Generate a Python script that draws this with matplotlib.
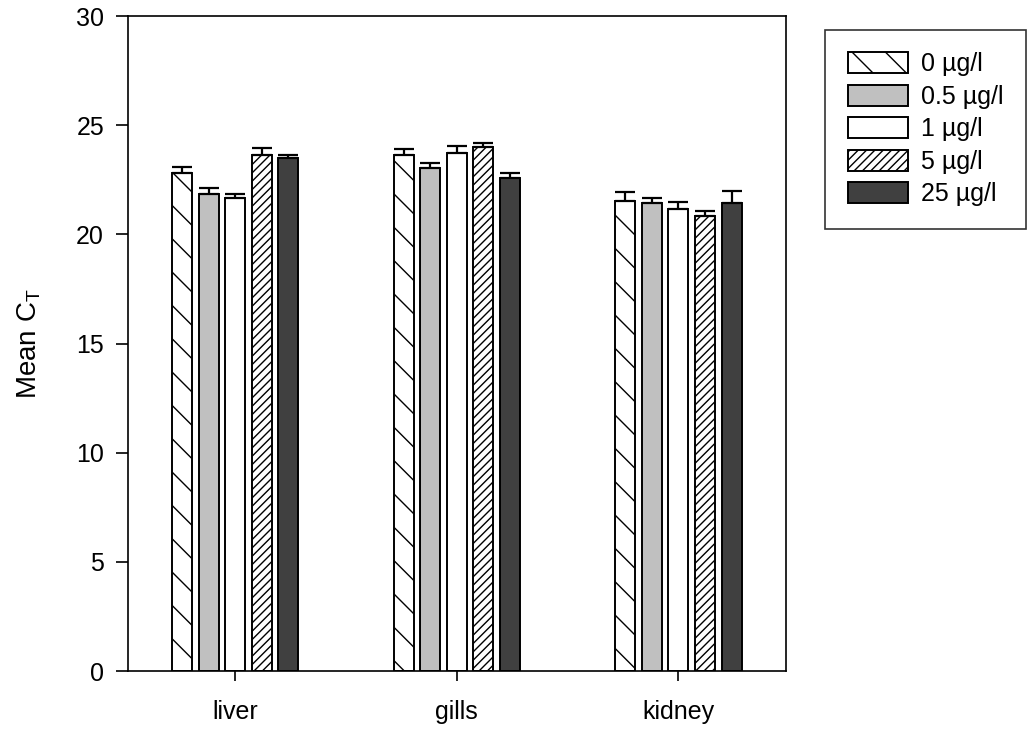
import numpy as np
import matplotlib
matplotlib.use("Agg")
import matplotlib.pyplot as plt

plt.rcParams['font.family'] = ['Liberation Sans', 'DejaVu Sans']
plt.rcParams['hatch.linewidth'] = 1.0

####DATA
tissues = ["liver", "gills", "kidney"]
doses = ["0 µg/l", "0.5 µg/l", "1 µg/l", "5 µg/l", "25 µg/l"]

mean_0 = [22.8, 23.65, 21.55]
mean_05 = [21.85, 23.05, 21.45]
mean_1 = [21.67, 23.75, 21.17]
mean_5 = [23.62, 24.0, 20.85]
mean_25 = [23.48, 22.6, 21.45]

err_0 = [0.3, 0.27, 0.37]
err_05 = [0.27, 0.23, 0.23]
err_1 = [0.18, 0.32, 0.3]
err_5 = [0.36, 0.2, 0.22]
err_25 = [0.18, 0.22, 0.55]

means = [mean_0, mean_05, mean_1, mean_5, mean_25]
errs = [err_0, err_05, err_1, err_5, err_25]
colors = ["white", "#c0c0c0", "white", "white", "#404040"]
hatches = ["\\", None, None, "////", None]

####PLOTTING
fig = plt.figure(figsize=(10.3, 7.31), dpi=100)
ax = fig.add_axes([0.124, 0.082, 0.639, 0.896])

x = np.arange(len(tissues))
width = 0.09
step = 0.12
for i in range(len(doses)):
    pos = x + (i - 2) * step
    ax.bar(pos, means[i], width=width, color=colors[i], edgecolor="black",
           linewidth=1.4, hatch=hatches[i], label=doses[i], zorder=2)
    ax.errorbar(pos, means[i], yerr=[np.zeros(3), errs[i]], fmt="none",
                ecolor="black", elinewidth=1.6, capsize=7, capthick=1.6, zorder=3)

ax.set_xlim(-0.485, 2.485)
ax.set_ylim(0, 30)
ax.set_yticks(range(0, 31, 5))
ax.set_xticks(x)
ax.set_xticklabels(tissues)
ax.tick_params(axis="y", direction="out", length=9, width=1.2, labelsize=18, pad=8)
ax.tick_params(axis="x", direction="out", length=7, width=1.2, labelsize=18, pad=14)
for s in ax.spines.values():
    s.set_linewidth(1.2)
ax.set_ylabel("Mean C$_\\mathregular{T}$", fontsize=20, labelpad=24)

leg = fig.legend(loc="upper left", bbox_to_anchor=(0.801, 0.959), fontsize=18,
                 frameon=True, fancybox=False, edgecolor="black",
                 handlelength=2.4, handleheight=0.9, borderpad=0.9,
                 labelspacing=0.34, handletextpad=0.55, borderaxespad=0)
leg.get_frame().set_linewidth(1.2)

plt.savefig("out.png", dpi=100)
